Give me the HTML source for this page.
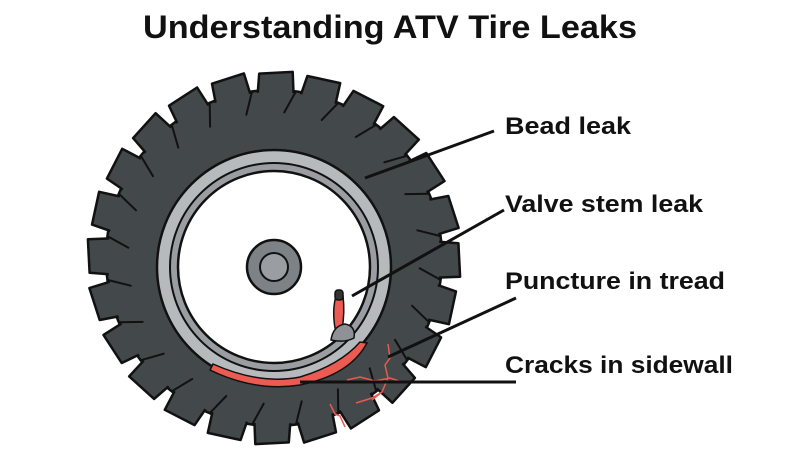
<!DOCTYPE html>
<html><head><meta charset="utf-8"><style>
html,body{margin:0;padding:0;background:#fff;width:800px;height:450px;overflow:hidden}
svg{display:block}
text{font-family:"Liberation Sans",sans-serif;fill:#111}
</style></head><body>
<svg id="s" width="800" height="450" viewBox="0 0 800 450">
<text x="390" y="38" font-size="32" font-weight="bold" text-anchor="middle" textLength="494" lengthAdjust="spacingAndGlyphs">Understanding ATV Tire Leaks</text>
<g id="lugs" fill="#43484b" stroke="#111" stroke-width="2.5" stroke-linejoin="round"></g>
<circle cx="274" cy="258" r="166" fill="#43484b" stroke="none"/>
<g id="grooves" stroke="#111" stroke-width="2" fill="none" stroke-linecap="round"></g>
<circle cx="274" cy="267" r="117" fill="#b7babd" stroke="#111" stroke-width="2.5"/>
<circle cx="274" cy="267" r="104" fill="#9a9ea2" stroke="#111" stroke-width="2"/>
<circle cx="274" cy="267" r="96" fill="#fff" stroke="#111" stroke-width="2.5"/>
<circle cx="274" cy="267" r="27" fill="#7d8286" stroke="#111" stroke-width="2.5"/>
<circle cx="274" cy="267" r="14" fill="#9a9ea2" stroke="#111" stroke-width="2"/>
<path d="M213 364 Q260 385 300 377 Q340 365 360 342 L367 343 Q350 375 300 385 Q255 392 210 370 Z" fill="#ec5b52" stroke="#111" stroke-width="1.5"/>
<path d="M335 328 Q332 310 336 296 L343 296 Q345 312 342 330 Z" fill="#ec5b52" stroke="#111" stroke-width="1.5"/>
<rect x="335" y="290" width="8" height="10" rx="3" fill="#333" stroke="#111" stroke-width="1.5"/>
<path d="M331 340 Q333 326 345 324 Q356 326 354 338 Q345 343 331 340Z" fill="#8e9296" stroke="#111" stroke-width="1.5"/>
<g stroke="#e85a4f" stroke-width="1.5" fill="none">
<path d="M388 344 L390 358 L385 365 L388 378 L382 392 L372 400"/>
<path d="M347 380 L360 377 L375 381 L390 378 L405 383"/>
<path d="M382 392 L372 398 L356 403"/>
<path d="M330 404 L335 414 L340 416 L345 427"/>
</g>
<g stroke="#111" stroke-width="3" stroke-linecap="butt">
<line x1="365" y1="178" x2="494" y2="131"/>
<line x1="352" y1="296" x2="504" y2="210"/>
<line x1="388" y1="357" x2="516" y2="298"/>
<line x1="300" y1="382" x2="516" y2="382"/>
</g>
<g font-size="24" font-weight="bold">
<text x="505" y="134" textLength="126" lengthAdjust="spacingAndGlyphs">Bead leak</text>
<text x="505" y="212" textLength="198" lengthAdjust="spacingAndGlyphs">Valve stem leak</text>
<text x="505" y="289" textLength="220" lengthAdjust="spacingAndGlyphs">Puncture in tread</text>
<text x="505" y="373" textLength="228" lengthAdjust="spacingAndGlyphs">Cracks in sidewall</text>
</g>
</svg>
<script>
var ns="http://www.w3.org/2000/svg",cx=274,cy=258,g=document.getElementById('lugs'),gr=document.getElementById('grooves');
var base=document.createElementNS(ns,'circle');base.setAttribute('cx',cx);base.setAttribute('cy',cy);base.setAttribute('r',168);g.appendChild(base);
var n=24;
function p(r,t){return (cx+r*Math.cos(t)).toFixed(1)+' '+(cy+r*Math.sin(t)).toFixed(1);}
for(var i=0;i<n;i++){
 var a=i*2*Math.PI/n, w=0.1;
 var path=document.createElementNS(ns,'path');
 path.setAttribute('d','M'+p(164,a-w)+' L'+p(185,a-w+0.02)+' L'+p(187,a+w)+' L'+p(164,a+w+0.02)+' Z');
 g.appendChild(path);
 var l=document.createElementNS(ns,'path');
 var b=a+Math.PI/n;
 l.setAttribute('d','M'+p(168,b)+' L'+p(146,b-0.06));
 gr.appendChild(l);
}
</script>
</body></html>
